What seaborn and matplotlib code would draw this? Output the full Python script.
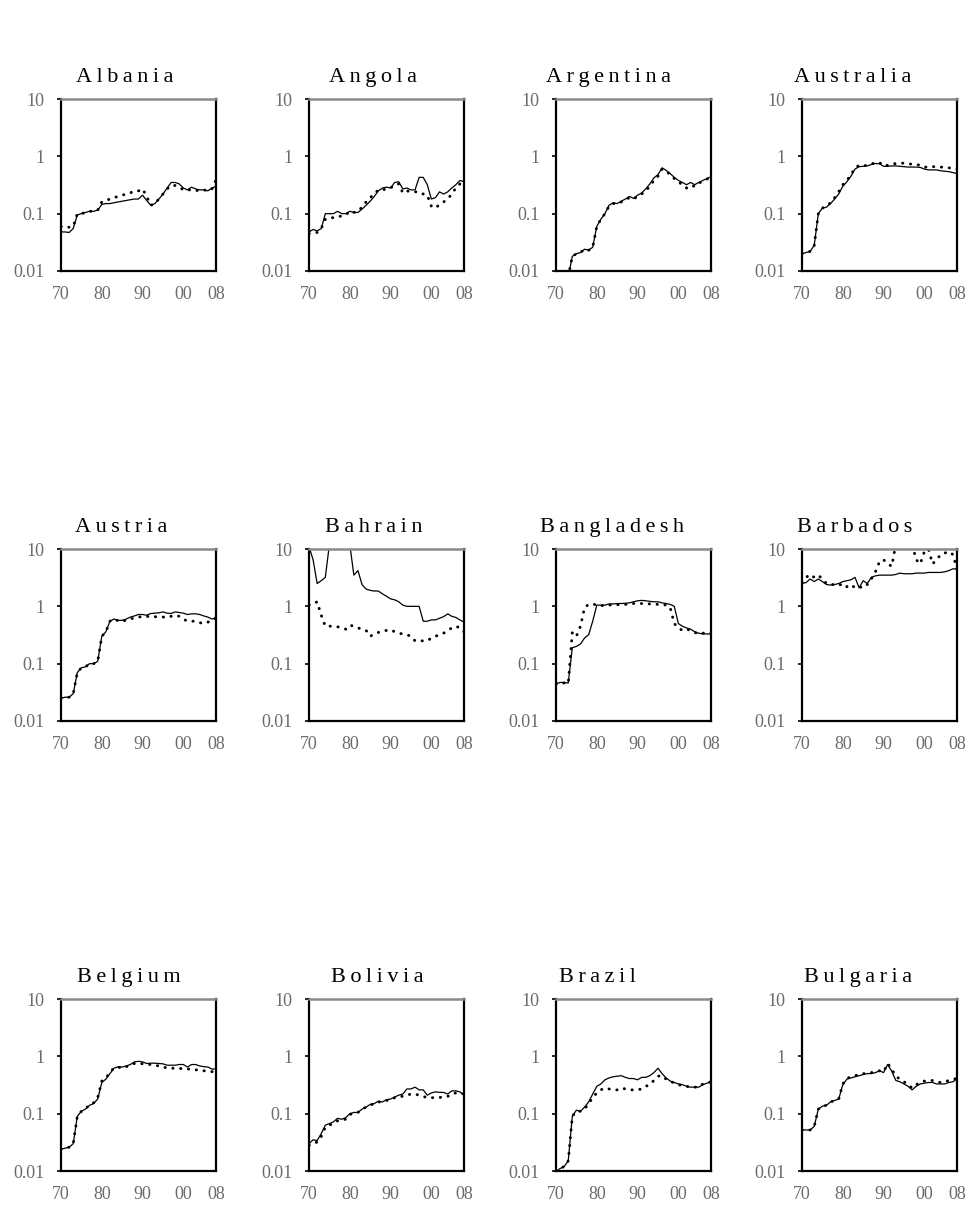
import numpy as np
import pandas as pd
import matplotlib
matplotlib.use('Agg')
import matplotlib.pyplot as plt
import seaborn as sns

nan = np.nan
years = list(range(1970, 2009))

albania_solid = [0.048, 0.048, 0.047, 0.055, 0.095, 0.10, 0.105, 0.11, 0.11, 0.115,
                 0.145, 0.15, 0.15, 0.155, 0.16, 0.165, 0.17, 0.175, 0.18, 0.18,
                 0.21, 0.17, 0.14, 0.15, 0.18, 0.22, 0.28, 0.35, 0.35, 0.33,
                 0.28, 0.26, 0.29, 0.27, 0.26, 0.26, 0.25, 0.28, 0.30]
albania_dotted = [0.06, 0.058, 0.058, 0.06, 0.10, 0.10, 0.105, 0.11, 0.11, 0.115,
                  0.16, 0.17, 0.18, 0.19, 0.20, 0.21, 0.22, 0.23, 0.25, 0.25,
                  0.27, 0.20, 0.14, 0.15, 0.18, 0.22, 0.27, 0.31, 0.31, 0.29,
                  0.26, 0.26, 0.26, 0.25, 0.26, 0.26, 0.25, 0.27, 0.39]

angola_solid = [0.048, 0.053, 0.05, 0.055, 0.10, 0.10, 0.10, 0.11, 0.10, 0.10,
                0.11, 0.105, 0.105, 0.12, 0.14, 0.165, 0.20, 0.25, 0.28, 0.29,
                0.28, 0.35, 0.36, 0.27, 0.28, 0.26, 0.26, 0.43, 0.43, 0.32,
                0.18, 0.19, 0.24, 0.22, 0.24, 0.28, 0.32, 0.38, 0.36]
angola_dotted = [0.045, 0.046, 0.047, 0.055, 0.08, 0.085, 0.085, 0.09, 0.09, 0.095,
                 0.11, 0.105, 0.11, 0.13, 0.16, 0.19, 0.22, 0.26, 0.26, 0.27,
                 0.28, 0.32, 0.33, 0.23, 0.25, 0.24, 0.24, 0.24, 0.22, 0.21,
                 0.135, 0.125, 0.145, 0.16, 0.18, 0.22, 0.28, 0.33, 0.37]

argentina_solid = [nan, nan, nan, 0.008, 0.018, 0.02, 0.021, 0.024, 0.023, 0.026,
                   0.06, 0.08, 0.10, 0.14, 0.155, 0.15, 0.165, 0.18, 0.20, 0.185,
                   0.21, 0.23, 0.27, 0.33, 0.42, 0.48, 0.63, 0.57, 0.50, 0.43,
                   0.38, 0.35, 0.32, 0.35, 0.32, 0.35, 0.38, 0.41, 0.44]
argentina_dotted = [nan, nan, nan, 0.008, 0.018, 0.02, 0.021, 0.024, 0.023, 0.026,
                    0.06, 0.08, 0.10, 0.135, 0.15, 0.15, 0.16, 0.175, 0.19, 0.18,
                    0.20, 0.22, 0.25, 0.30, 0.38, 0.45, 0.60, 0.55, 0.48, 0.41,
                    0.36, 0.32, 0.28, 0.31, 0.30, 0.34, 0.37, 0.40, 0.44]

australia_solid = [0.02, 0.021, 0.022, 0.028, 0.10, 0.125, 0.13, 0.15, 0.18, 0.22,
                   0.30, 0.36, 0.45, 0.60, 0.66, 0.67, 0.68, 0.72, 0.75, 0.74,
                   0.67, 0.67, 0.68, 0.68, 0.67, 0.66, 0.65, 0.65, 0.65, 0.64,
                   0.60, 0.58, 0.58, 0.58, 0.56, 0.55, 0.54, 0.52, 0.50]
australia_dotted = [0.02, 0.021, 0.022, 0.028, 0.10, 0.125, 0.135, 0.155, 0.19, 0.24,
                    0.32, 0.38, 0.48, 0.62, 0.70, 0.68, 0.70, 0.73, 0.78, 0.78,
                    0.68, 0.70, 0.73, 0.75, 0.76, 0.76, 0.74, 0.73, 0.72, 0.70,
                    0.65, 0.65, 0.66, 0.66, 0.65, 0.64, 0.63, 0.62, 0.60]

austria_solid = [0.025, 0.026, 0.026, 0.03, 0.07, 0.085, 0.088, 0.10, 0.10, 0.11,
                 0.30, 0.36, 0.55, 0.60, 0.57, 0.57, 0.60, 0.65, 0.68, 0.72,
                 0.72, 0.70, 0.75, 0.76, 0.77, 0.80, 0.76, 0.75, 0.80, 0.78,
                 0.76, 0.72, 0.74, 0.74, 0.72, 0.68, 0.65, 0.60, 0.63]
austria_dotted = [0.025, 0.026, 0.026, 0.03, 0.07, 0.085, 0.088, 0.10, 0.10, 0.11,
                  0.30, 0.36, 0.55, 0.60, 0.56, 0.54, 0.58, 0.60, 0.63, 0.65,
                  0.66, 0.66, 0.68, 0.66, 0.65, 0.65, 0.64, 0.67, 0.70, 0.67,
                  0.60, 0.55, 0.55, 0.55, 0.52, 0.50, 0.53, 0.56, 0.63]

bahrain_solid = [11.0, 6.5, 2.5, 2.8, 3.2, 12.0, 30.0, 30.0, 30.0, 30.0,
                 12.0, 3.5, 4.2, 2.4, 2.0, 1.9, 1.85, 1.85, 1.65, 1.5,
                 1.35, 1.3, 1.2, 1.05, 1.0, 1.0, 1.0, 1.0, 0.55, 0.55,
                 0.58, 0.58, 0.62, 0.66, 0.74, 0.67, 0.64, 0.58, 0.53]
bahrain_dotted = [1.05, 1.1, 1.2, 0.7, 0.45, 0.45, 0.45, 0.44, 0.42, 0.40,
                  0.47, 0.45, 0.42, 0.40, 0.38, 0.30, 0.33, 0.35, 0.37, 0.38,
                  0.39, 0.36, 0.34, 0.33, 0.32, 0.30, 0.25, 0.25, 0.25, 0.25,
                  0.28, 0.30, 0.32, 0.34, 0.38, 0.42, 0.45, 0.42, 0.36]

bangladesh_solid = [0.045, 0.047, 0.047, 0.046, 0.19, 0.20, 0.22, 0.28, 0.32, 0.55,
                    1.05, 1.05, 1.05, 1.10, 1.10, 1.12, 1.12, 1.13, 1.15, 1.20,
                    1.25, 1.27, 1.25, 1.22, 1.20, 1.20, 1.15, 1.12, 1.08, 1.00,
                    0.50, 0.45, 0.42, 0.40, 0.36, 0.34, 0.33, 0.33, 0.33]
bangladesh_dotted = [0.044, 0.046, 0.046, 0.045, 0.35, 0.30, 0.45, 0.95, 1.08, 1.10,
                     1.05, 1.02, 1.05, 1.05, 1.07, 1.07, 1.07, 1.08, 1.10, 1.12,
                     1.12, 1.12, 1.12, 1.10, 1.10, 1.08, 1.08, 1.05, 0.95, 0.50,
                     0.42, 0.38, 0.40, 0.38, 0.35, 0.33, 0.34, 0.35, 0.34]

barbados_solid = [2.5, 2.6, 3.0, 2.7, 3.0, 2.7, 2.4, 2.35, 2.4, 2.5,
                  2.7, 2.8, 2.9, 3.2, 2.1, 2.8, 2.5, 3.2, 3.4, 3.5,
                  3.5, 3.5, 3.5, 3.6, 3.8, 3.7, 3.7, 3.7, 3.8, 3.8,
                  3.8, 3.9, 3.9, 3.9, 3.9, 4.0, 4.2, 4.5, 4.5]
barbados_dotted = [2.6, 3.2, 3.6, 3.2, 3.5, 3.0, 2.5, 2.4, 2.4, 2.3,
                   2.5, 2.2, 2.4, 2.1, 2.2, 2.1, 2.4, 3.0, 4.0, 6.0,
                   6.5, 5.5, 5.0, 12.0, 15.0, 15.0, 15.0, 12.0, 6.5, 5.5,
                   9.0, 10.0, 5.5, 6.5, 8.0, 8.5, 9.0, 8.0, 4.5]

belgium_solid = [0.024, 0.025, 0.026, 0.03, 0.09, 0.11, 0.12, 0.14, 0.15, 0.18,
                 0.35, 0.40, 0.50, 0.62, 0.66, 0.65, 0.68, 0.72, 0.80, 0.82,
                 0.80, 0.75, 0.76, 0.76, 0.75, 0.74, 0.70, 0.70, 0.70, 0.72,
                 0.72, 0.65, 0.72, 0.72, 0.68, 0.66, 0.65, 0.60, 0.60]
belgium_dotted = [0.024, 0.025, 0.026, 0.03, 0.09, 0.11, 0.12, 0.145, 0.155, 0.19,
                  0.37, 0.42, 0.52, 0.63, 0.65, 0.62, 0.66, 0.70, 0.75, 0.76,
                  0.74, 0.72, 0.72, 0.70, 0.68, 0.66, 0.62, 0.62, 0.62, 0.62,
                  0.60, 0.60, 0.60, 0.58, 0.58, 0.56, 0.55, 0.54, 0.58]

bolivia_solid = [0.03, 0.035, 0.034, 0.045, 0.063, 0.067, 0.072, 0.083, 0.08, 0.085,
                 0.10, 0.105, 0.105, 0.12, 0.13, 0.145, 0.15, 0.165, 0.16, 0.175,
                 0.18, 0.195, 0.21, 0.22, 0.27, 0.27, 0.29, 0.26, 0.26, 0.21,
                 0.23, 0.24, 0.235, 0.235, 0.22, 0.25, 0.25, 0.24, 0.21]
bolivia_dotted = [0.028, 0.03, 0.032, 0.04, 0.058, 0.063, 0.068, 0.075, 0.077, 0.08,
                  0.097, 0.10, 0.105, 0.12, 0.13, 0.14, 0.15, 0.16, 0.16, 0.17,
                  0.175, 0.19, 0.20, 0.20, 0.21, 0.22, 0.22, 0.21, 0.20, 0.19,
                  0.19, 0.19, 0.19, 0.20, 0.20, 0.22, 0.23, 0.23, 0.22]

brazil_solid = [0.01, 0.011, 0.012, 0.015, 0.09, 0.115, 0.11, 0.13, 0.16, 0.22,
                0.30, 0.33, 0.39, 0.42, 0.44, 0.45, 0.46, 0.43, 0.41, 0.41,
                0.39, 0.43, 0.43, 0.46, 0.52, 0.62, 0.50, 0.42, 0.37, 0.35,
                0.33, 0.32, 0.30, 0.29, 0.29, 0.29, 0.32, 0.34, 0.36]
brazil_dotted = [0.01, 0.011, 0.012, 0.015, 0.09, 0.11, 0.11, 0.12, 0.15, 0.19,
                 0.23, 0.26, 0.28, 0.27, 0.26, 0.26, 0.28, 0.27, 0.26, 0.26,
                 0.26, 0.27, 0.30, 0.32, 0.38, 0.45, 0.46, 0.40, 0.37, 0.34,
                 0.32, 0.31, 0.30, 0.29, 0.29, 0.29, 0.33, 0.34, 0.36]

bulgaria_solid = [0.052, 0.052, 0.052, 0.06, 0.12, 0.135, 0.14, 0.16, 0.17, 0.18,
                  0.32, 0.40, 0.42, 0.44, 0.46, 0.48, 0.50, 0.50, 0.52, 0.56,
                  0.52, 0.72, 0.55, 0.38, 0.36, 0.33, 0.30, 0.26, 0.30, 0.33,
                  0.34, 0.35, 0.35, 0.33, 0.33, 0.33, 0.35, 0.36, 0.40]
bulgaria_dotted = [0.052, 0.052, 0.052, 0.06, 0.12, 0.135, 0.14, 0.16, 0.17, 0.18,
                   0.33, 0.41, 0.44, 0.46, 0.48, 0.50, 0.50, 0.52, 0.54, 0.56,
                   0.54, 0.75, 0.60, 0.45, 0.40, 0.36, 0.32, 0.28, 0.32, 0.35,
                   0.37, 0.37, 0.38, 0.36, 0.35, 0.36, 0.38, 0.40, 0.41]

countries = ['Albania', 'Angola', 'Argentina', 'Australia',
             'Austria', 'Bahrain', 'Bangladesh', 'Barbados',
             'Belgium', 'Bolivia', 'Brazil', 'Bulgaria']
solid_series = [albania_solid, angola_solid, argentina_solid, australia_solid,
                austria_solid, bahrain_solid, bangladesh_solid, barbados_solid,
                belgium_solid, bolivia_solid, brazil_solid, bulgaria_solid]
dotted_series = [albania_dotted, angola_dotted, argentina_dotted, australia_dotted,
                 austria_dotted, bahrain_dotted, bangladesh_dotted, barbados_dotted,
                 belgium_dotted, bolivia_dotted, brazil_dotted, bulgaria_dotted]

xtick_vals = [1970, 1980, 1990, 2000, 2008]
xtick_labels = ['70', '80', '90', '00', '08']
ytick_vals = [0.01, 0.1, 1, 10]
ytick_labels = ['0.01', '0.1', '1', '10']

# where each title sits relative to its axes (reference is not centred)
title_x = [0.41, 0.41, 0.34, 0.33,
           0.39, 0.42, 0.36, 0.34,
           0.44, 0.44, 0.27, 0.36]

sns.set_style('white')
plt.rcParams['font.family'] = ['Liberation Serif', 'DejaVu Serif']

fig = plt.figure(figsize=(9.66, 12.09), dpi=100)

col_left = [61, 309, 556, 802]
row_bottom = [271, 721, 1171]
ax_w, ax_h = 155, 172

for i, name in enumerate(countries):
    r, c = divmod(i, 4)
    ax = fig.add_axes([col_left[c] / 966, 1 - row_bottom[r] / 1209,
                       ax_w / 966, ax_h / 1209])
    df = pd.DataFrame({'year': years, 'solid': solid_series[i],
                       'dotted': dotted_series[i]})
    sns.lineplot(data=df, x='year', y='solid', ax=ax, color='black', lw=0.9)
    sns.lineplot(data=df, x='year', y='dotted', ax=ax, color='black', lw=2.1,
                 linestyle=(0, (0.1, 2.6)), dash_capstyle='round')

    ax.set_yscale('log')
    ax.set_xlim(1970, 2008)
    ax.set_ylim(0.01, 10)
    ax.set_xticks(xtick_vals)
    ax.set_xticklabels(xtick_labels)
    ax.set_yticks(ytick_vals)
    ax.set_yticklabels(ytick_labels)
    ax.minorticks_off()
    ax.set_xlabel('')
    ax.set_ylabel('')
    ax.tick_params(axis='x', length=0, pad=11, labelsize=13, labelcolor='#6b6b6b')
    ax.tick_params(axis='y', length=3, width=1.2, color='black', pad=9,
                   labelsize=13, labelcolor='#6b6b6b', left=True)

    for side in ['left', 'bottom', 'right']:
        ax.spines[side].set_color('black')
        ax.spines[side].set_linewidth(1.6)
    ax.spines['top'].set_color('#8a8a8a')
    ax.spines['top'].set_linewidth(1.8)

    ax.text(title_x[i], 1.125, '\u2009'.join(name), transform=ax.transAxes,
            ha='center', va='center', fontsize=16, color='black')

fig.savefig('out.png', dpi=100)
